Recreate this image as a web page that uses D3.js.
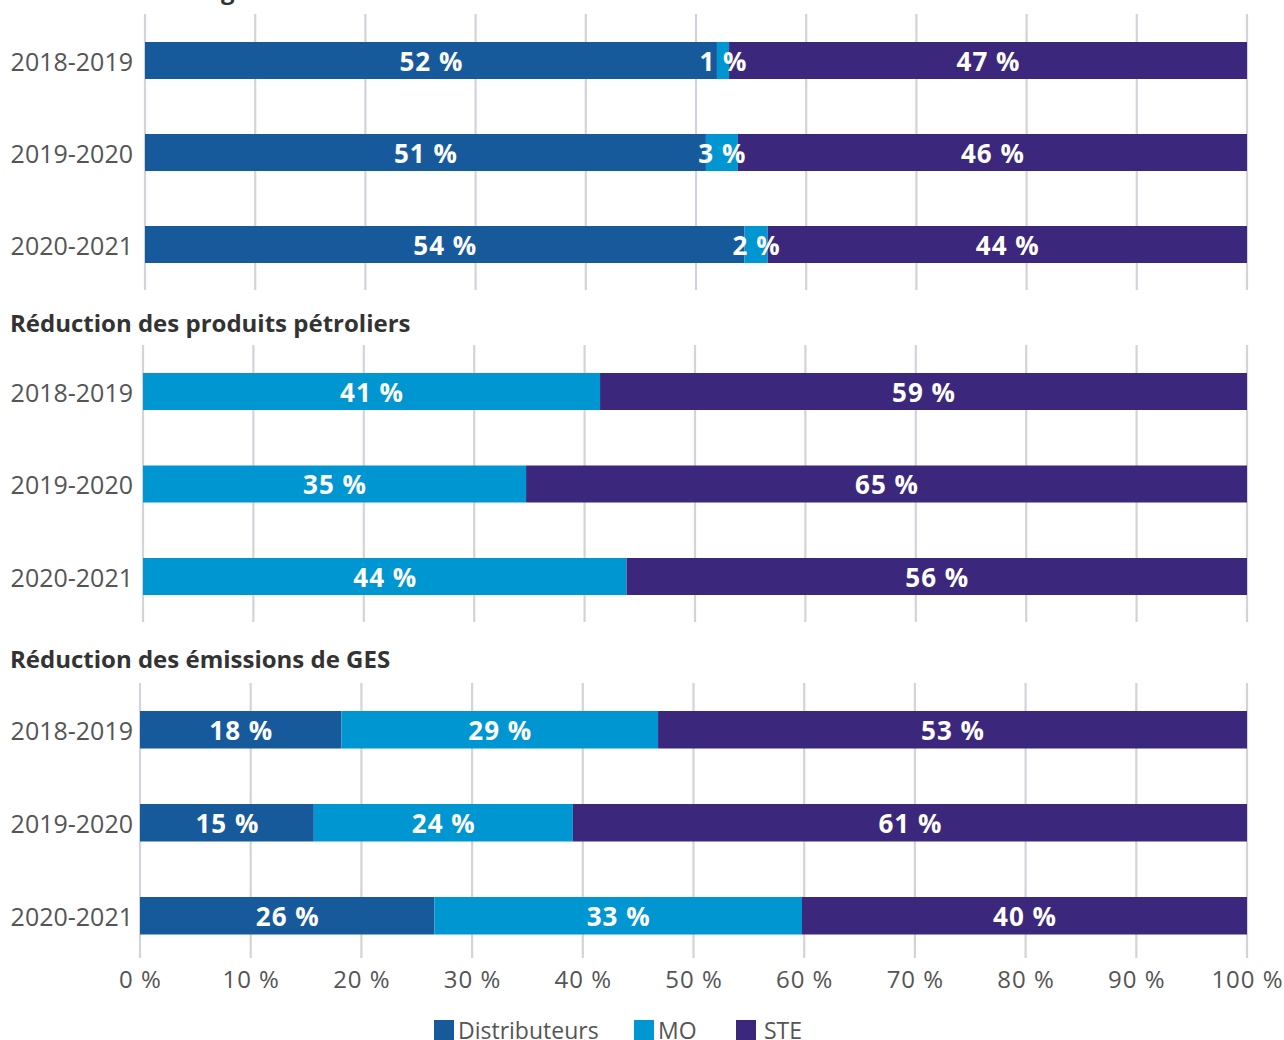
<!DOCTYPE html>
<html><head><meta charset="utf-8">
<script src="https://cdn.jsdelivr.net/npm/d3@7"></script>
<style>body{margin:0;background:#fff}svg{display:block}</style>
</head><body>
<svg id="c" width="1284" height="1040"></svg>
<script>
const years = ["2018-2019","2019-2020","2020-2021"];
const seriesNames = ["Distributeurs","MO","STE"];
const panelTitles = ["Économies d'énergie","Réduction des produits pétroliers","Réduction des émissions de GES"];
// values in % per year [Distributeurs, MO, STE]
const energyValues = [[51.9,1.1,47.0],[50.9,2.9,46.2],[54.4,2.1,43.5]];
const petroleumValues = [[0,41.4,58.6],[0,34.7,65.3],[0,43.8,56.2]];
const gesValues = [[18.2,28.6,53.2],[15.7,23.4,60.9],[26.6,33.2,40.2]];
const energyLabels = [["52 %","1 %","47 %"],["51 %","3 %","46 %"],["54 %","2 %","44 %"]];
const petroleumLabels = [["","41 %","59 %"],["","35 %","65 %"],["","44 %","56 %"]];
const gesLabels = [["18 %","29 %","53 %"],["15 %","24 %","61 %"],["26 %","33 %","40 %"]];
const tickValues = [0,10,20,30,40,50,60,70,80,90,100];
const tickLabels = ["0 %","10 %","20 %","30 %","40 %","50 %","60 %","70 %","80 %","90 %","100 %"];

const colors = d3.scaleOrdinal().domain(seriesNames).range(["#175a9c","#0096d1","#3b287c"]);
const svg = d3.select("#c");
const FONT = "'Open Sans', 'Noto Sans', sans-serif";

const panels = [
  {values: energyValues, labels: energyLabels, x0:145, x1:1247, top:14, bottom:290, titleY:-1, firstTop:42, step:92, bw:37},
  {values: petroleumValues, labels: petroleumLabels, x0:143, x1:1247, top:345, bottom:622, titleY:332, firstTop:373, step:92.5, bw:37},
  {values: gesValues, labels: gesLabels, x0:140, x1:1247, top:683, bottom:958, titleY:668, firstTop:711, step:93, bw:37.5}
];

panels.forEach((p,pi)=>{
  const g = svg.append("g");
  const x = d3.scaleLinear().domain([0,100]).range([p.x0,p.x1]);
  const pin = (p.step-p.bw)/p.step;
  const y = d3.scaleBand().domain(years)
    .range([p.firstTop, p.firstTop + 3*p.step - p.step*pin]).paddingInner(pin).paddingOuter(0);
  g.append("text").attr("x",10).attr("y",p.titleY).text(panelTitles[pi])
    .attr("font-family",FONT).attr("font-weight",700).attr("font-size",24).attr("fill","#333");
  g.selectAll("line.grid").data(tickValues).join("line")
    .attr("x1",d=>x(d)).attr("x2",d=>x(d)).attr("y1",p.top).attr("y2",p.bottom)
    .attr("stroke","#d3d3da").attr("stroke-width",2.2);
  years.forEach((yr,yi)=>{
    const vals = p.values[yi];
    let acc = 0;
    const segs = vals.map((v,si)=>{const s={start:acc,end:acc+v,si}; acc+=v; return s;});
    g.selectAll(null).data(segs.filter(s=>s.end>s.start)).join("rect")
      .attr("x",s=>x(s.start)).attr("width",s=>x(s.end)-x(s.start))
      .attr("y",y(yr)).attr("height",y.bandwidth())
      .attr("fill",s=>colors(seriesNames[s.si]));
    g.selectAll(null).data(segs.filter(s=>p.labels[yi][s.si])).join("text")
      .attr("x",s=>(x(s.start)+x(s.end))/2+0.5).attr("y",y(yr)+y.bandwidth()/2)
      .attr("text-anchor","middle").attr("dominant-baseline","central")
      .attr("font-family",FONT).attr("font-weight",700).attr("font-size",26)
      .attr("letter-spacing",1).attr("fill","#fff")
      .text(s=>p.labels[yi][s.si]);
    g.append("text").attr("x",133).attr("y",y(yr)+y.bandwidth()/2)
      .attr("text-anchor","end").attr("dominant-baseline","central")
      .attr("font-family",FONT).attr("font-size",25).attr("fill","#555").text(yr);
  });
  if(pi===2){
    g.selectAll("text.tick").data(tickValues).join("text")
      .attr("x",d=>x(d)+0.5).attr("y",988).attr("text-anchor","middle")
      .attr("font-family",FONT).attr("font-size",24).attr("letter-spacing",1).attr("fill","#555")
      .text((d,i)=>tickLabels[i]);
  }
});

// legend
const legendX = [434,634,736];
const lg = svg.append("g");
seriesNames.forEach((n,i)=>{
  lg.append("rect").attr("x",legendX[i]).attr("y",1020).attr("width",20).attr("height",20).attr("fill",colors(n));
  lg.append("text").attr("x",legendX[i]+(i===2?28:24)).attr("y",1039).text(n)
    .attr("font-family",FONT).attr("font-size",23).attr("fill","#555");
});
</script>
</body></html>
